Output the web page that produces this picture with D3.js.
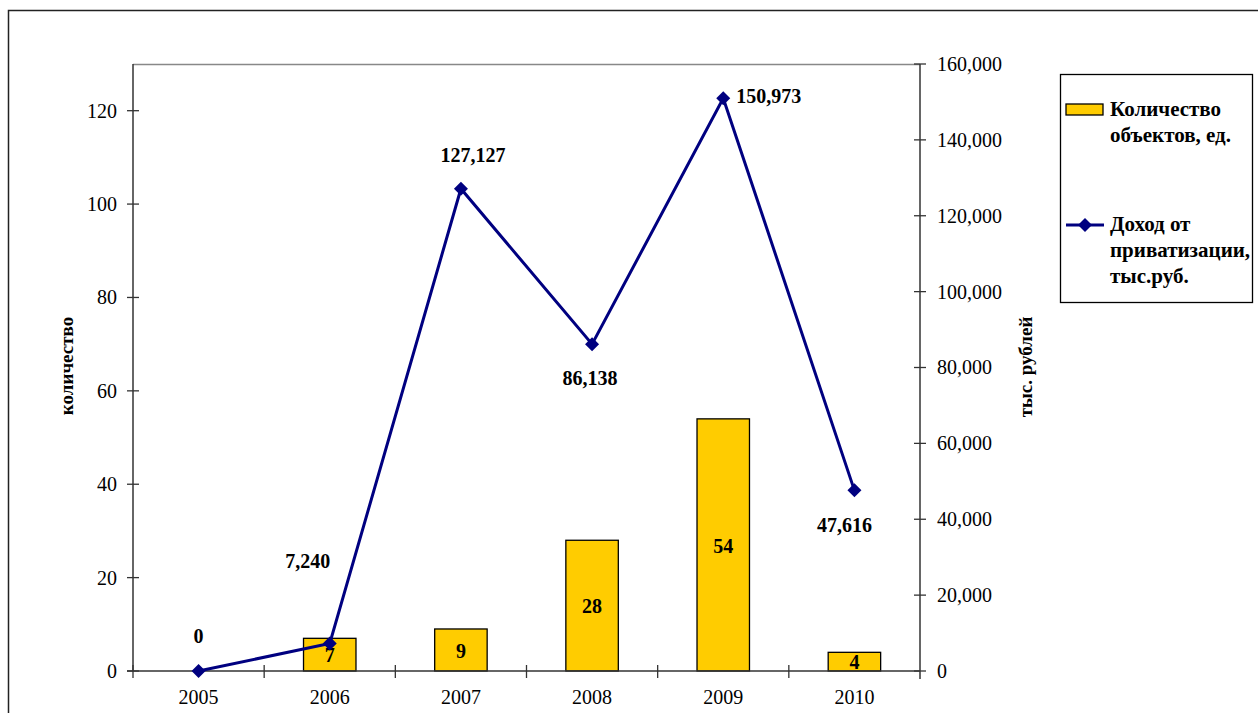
<!DOCTYPE html>
<html>
<head>
<meta charset="utf-8">
<script src="https://cdn.jsdelivr.net/npm/d3@7"></script>
<style>
  body { margin: 0; background: #fff; }
  svg { display: block; font-family: "Liberation Serif", "Times New Roman", serif; }
</style>
</head>
<body>
<svg id="chart" width="1258" height="713"></svg>
<script>
var years = ['2005', '2006', '2007', '2008', '2009', '2010'];
var objectCounts = [0, 7, 9, 28, 54, 4];
var income = [0, 7240, 127127, 86138, 150973, 47616];
var leftTicks = [0, 20, 40, 60, 80, 100, 120];
var rightTicks = [0, 20000, 40000, 60000, 80000, 100000, 120000, 140000, 160000];

// label placement for the line labels, like excel put them
var lineLabelPlace = [
    {dx: 0, dy: -33, anchor: 'middle'},
    {dx: -22, dy: -80, anchor: 'middle'},
    {dx: 12, dy: -31, anchor: 'middle'},
    {dx: -2, dy: 36, anchor: 'middle'},
    {dx: 13, dy: 0, anchor: 'start'},
    {dx: -10, dy: 37, anchor: 'middle'}
];

var svg = d3.select('#chart');
// note: "top" is taken by window.top, so plot edges get their own names
var plotL = 133, plotR = 920, plotT = 64, plotB = 671;
var fs = '20px';

var x = d3.scaleBand().domain(years).range([plotL, plotR]);
var yL = d3.scaleLinear().domain([0, 130]).range([plotB, plotT]);
var yR = d3.scaleLinear().domain([0, 160000]).range([plotB, plotT]);
var fmt = d3.format(',');
var cx = function (d) { return x(d) + x.bandwidth() / 2; };

// outer frame
svg.append('rect')
    .attr('x', 8.5).attr('y', 10.5)
    .attr('width', 1270).attr('height', 720)
    .attr('fill', 'none').attr('stroke', '#222').attr('stroke-width', 1.5);

// plot area top border
svg.append('line')
    .attr('x1', plotL).attr('x2', plotR).attr('y1', plotT + 0.5).attr('y2', plotT + 0.5)
    .attr('stroke', '#888').attr('stroke-width', 1.5);

// bars
var bw = x.bandwidth() * 0.4;
svg.selectAll('.bar')
    .data(years)
    .enter()
    .append('rect')
    .attr('class', 'bar')
    .attr('x', function (d) { return cx(d) - bw / 2; })
    .attr('y', function (d, i) { return yL(objectCounts[i]); })
    .attr('width', bw)
    .attr('height', function (d, i) { return plotB - yL(objectCounts[i]); })
    .attr('fill', '#FFCC00')
    .attr('stroke', '#000')
    .attr('stroke-width', 1.3)
    .style('display', function (d, i) { return objectCounts[i] ? null : 'none'; });

svg.selectAll('.barLabel')
    .data(years.filter(function (d, i) { return objectCounts[i] > 0; }))
    .enter()
    .append('text')
    .attr('class', 'barLabel')
    .attr('x', cx)
    .attr('y', function (d) {
        var v = objectCounts[years.indexOf(d)];
        return (yL(v) + plotB) / 2 + 3;
    })
    .attr('text-anchor', 'middle')
    .attr('dominant-baseline', 'middle')
    .style('font-size', fs).style('font-weight', 'bold')
    .text(function (d) { return objectCounts[years.indexOf(d)]; });

// left axis
var gL = svg.append('g').attr('transform', 'translate(' + plotL + ',0)')
    .call(d3.axisLeft(yL).tickValues(leftTicks).tickSize(0).tickPadding(16));
gL.select('.domain').remove();
gL.selectAll('text').style('font-size', fs).attr('fill', '#000').style('font-family', 'Liberation Serif');
svg.append('line').attr('x1', plotL).attr('x2', plotL).attr('y1', plotT).attr('y2', plotB)
    .attr('stroke', '#333').attr('stroke-width', 1.5);
svg.selectAll('.ltick').data(leftTicks).enter().append('line')
    .attr('x1', plotL - 6).attr('x2', plotL + 6)
    .attr('y1', function (d) { return yL(d); }).attr('y2', function (d) { return yL(d); })
    .attr('stroke', '#333').attr('stroke-width', 1.3);

// right axis
var gR = svg.append('g').attr('transform', 'translate(' + plotR + ',0)')
    .call(d3.axisRight(yR).tickValues(rightTicks).tickSize(0).tickPadding(17).tickFormat(fmt));
gR.select('.domain').remove();
gR.selectAll('text').style('font-size', fs).attr('fill', '#000').style('font-family', 'Liberation Serif');
svg.append('line').attr('x1', plotR).attr('x2', plotR).attr('y1', plotT).attr('y2', plotB + 8)
    .attr('stroke', '#333').attr('stroke-width', 1.5);
svg.selectAll('.rtick').data(rightTicks).enter().append('line')
    .attr('x1', plotR - 6).attr('x2', plotR + 6)
    .attr('y1', function (d) { return yR(d); }).attr('y2', function (d) { return yR(d); })
    .attr('stroke', '#333').attr('stroke-width', 1.3);

// x axis
svg.append('line').attr('x1', plotL - 6).attr('x2', plotR).attr('y1', plotB).attr('y2', plotB)
    .attr('stroke', '#333').attr('stroke-width', 1.5);
svg.selectAll('.xtick').data(years).enter().append('line')
    .attr('x1', function (d) { return x(d); }).attr('x2', function (d) { return x(d); })
    .attr('y1', plotB - 6).attr('y2', plotB + 7)
    .attr('stroke', '#333').attr('stroke-width', 1.3);
svg.selectAll('.xlab').data(years).enter().append('text')
    .attr('x', cx)
    .attr('y', 704)
    .attr('text-anchor', 'middle')
    .style('font-size', fs)
    .text(function (d) { return d; });

// line series
var line = d3.line()
    .x(function (d, i) { return cx(years[i]); })
    .y(function (d) { return yR(d); });
svg.append('path')
    .datum(income)
    .attr('d', line)
    .attr('fill', 'none')
    .attr('stroke', '#000080')
    .attr('stroke-width', 3);
svg.selectAll('.marker').data(income).enter().append('path')
    .attr('d', d3.symbol().type(d3.symbolDiamond2).size(125))
    .attr('transform', function (d, i) {
        return 'translate(' + cx(years[i]) + ',' + yR(d) + ')';
    })
    .attr('fill', '#000080');
svg.selectAll('.lineLabel').data(income).enter().append('text')
    .attr('x', function (d, i) { return cx(years[i]) + lineLabelPlace[i].dx; })
    .attr('y', function (d, i) { return yR(d) + lineLabelPlace[i].dy; })
    .attr('text-anchor', function (d, i) { return lineLabelPlace[i].anchor; })
    .attr('dominant-baseline', 'middle')
    .style('font-size', fs).style('font-weight', 'bold')
    .text(function (d) { return fmt(d); });

// axis titles
svg.append('text')
    .attr('transform', 'translate(73,366) rotate(-90)')
    .attr('text-anchor', 'middle')
    .style('font-size', '19px').style('font-weight', 'bold')
    .text('количество');
svg.append('text')
    .attr('transform', 'translate(1032,367) rotate(-90)')
    .attr('text-anchor', 'middle')
    .style('font-size', '19px').style('font-weight', 'bold')
    .text('тыс. рублей');

// legend
var lg = svg.append('g');
lg.append('rect')
    .attr('x', 1060.5).attr('y', 74.5).attr('width', 192).attr('height', 228)
    .attr('fill', '#fff').attr('stroke', '#000').attr('stroke-width', 1.3);
lg.append('rect')
    .attr('x', 1066).attr('y', 104).attr('width', 37).attr('height', 11)
    .attr('fill', '#FFCC00').attr('stroke', '#000').attr('stroke-width', 1.3);
lg.append('line')
    .attr('x1', 1066).attr('x2', 1104).attr('y1', 225).attr('y2', 225)
    .attr('stroke', '#000080').attr('stroke-width', 3);
lg.append('path')
    .attr('d', d3.symbol().type(d3.symbolDiamond2).size(125))
    .attr('transform', 'translate(1085,225)')
    .attr('fill', '#000080');
var legendText = [
    {y: 111, lines: ['Количество', 'объектов, ед.']},
    {y: 226, lines: ['Доход от', 'приватизации,', 'тыс.руб.']}
];
legendText.forEach(function (item) {
    item.lines.forEach(function (t, j) {
        lg.append('text')
            .attr('x', 1110)
            .attr('y', item.y + j * 26)
            .attr('dominant-baseline', 'middle')
            .style('font-size', '21px').style('font-weight', 'bold')
            .text(t);
    });
});
</script>
</body>
</html>
